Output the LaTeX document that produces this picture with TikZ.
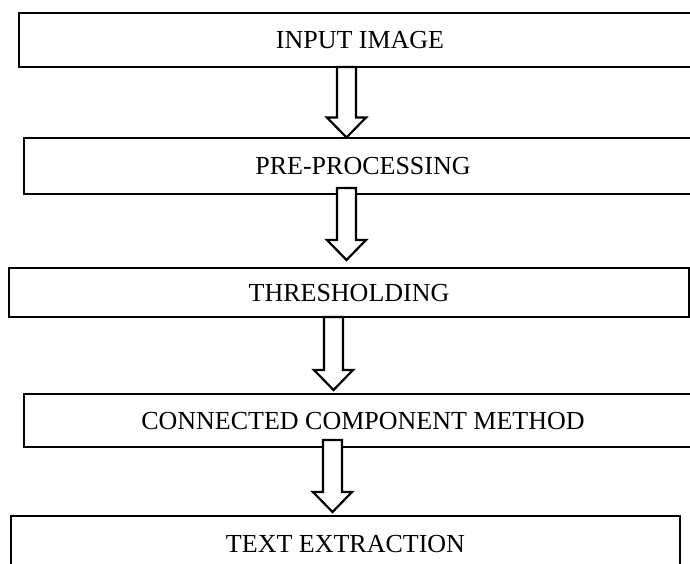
\documentclass[tikz,border=0pt]{standalone}
\usepackage{fontspec}
\setmainfont{Liberation Serif}
\usetikzlibrary{calc}

\tikzset{
  stage/.style={draw=black, line width=2.5pt, rectangle, inner sep=0pt,
    font=\fontsize{26}{30}\selectfont, text height=17.2pt, text depth=0pt},
  flow/.style={draw=black, fill=white, line width=2.2pt, line join=miter},
}

% hollow block arrow from the top of its shaft (#1) down to its tip (#2)
\newcommand\flowarrow[2]{%
  \filldraw[flow] let \p1=(#1), \p2=(#2) in
    (\x1-9.5pt,\y1) -- (\x1+9.5pt,\y1) -- (\x1+9.5pt,\y2+20pt)
    -- (\x1+19.5pt,\y2+20pt) -- (\x2,\y2) -- (\x1-19.5pt,\y2+20pt)
    -- (\x1-9.5pt,\y2+20pt) -- cycle;}

\begin{document}
\begin{tikzpicture}[x=1pt,y=-1pt]
\useasboundingbox (0,0) rectangle (690,564);
\clip (0,0) rectangle (690,564);

% processing stages
\node[stage, minimum width=682pt, minimum height=54pt] (b1) at (360,40) {INPUT IMAGE};
\node[stage, minimum width=678pt, minimum height=56pt] (b2) at (363,166) {PRE-PROCESSING};
\node[stage, minimum width=680pt, minimum height=49pt] (b3) at (349,292.5) {THRESHOLDING};
\node[stage, minimum width=678pt, minimum height=53pt] (b4) at (363,420.5) {CONNECTED COMPONENT METHOD};
\node[stage, minimum width=669pt, minimum height=56pt] (b5) at (345.5,544) {TEXT EXTRACTION};

% arrow ends
\coordinate (a1s) at (346.5,67);   \coordinate (a1e) at (346.5,137.5);
\coordinate (a2s) at (346.5,188);  \coordinate (a2e) at (346.5,260);
\coordinate (a3s) at (333.5,317);  \coordinate (a3e) at (333.5,390);
\coordinate (a4s) at (332.5,440);  \coordinate (a4e) at (332.5,512);

\flowarrow{a1s}{a1e}
\flowarrow{a2s}{a2e}
\flowarrow{a3s}{a3e}
\flowarrow{a4s}{a4e}
\end{tikzpicture}
\end{document}
